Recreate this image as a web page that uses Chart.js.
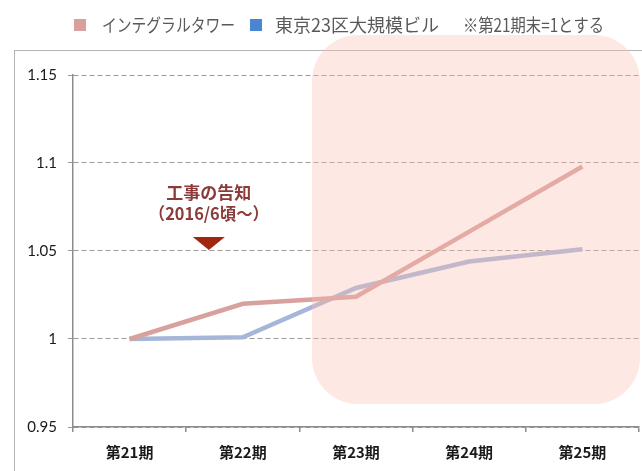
<!DOCTYPE html>
<html>
<head>
<meta charset="utf-8">
<script src="https://cdn.jsdelivr.net/npm/chart.js"></script>
<style>
  html, body { margin: 0; padding: 0; background: #fff; }
  #wrap { width: 642px; height: 471px; position: relative; }
</style>
</head>
<body>
<div id="wrap"><canvas id="grafico"></canvas></div>
<script>
// dados
const periodos = ['第21期', '第22期', '第23期', '第24期', '第25期'];
const integral = [1.000, 1.020, 1.024, 1.061, 1.098];
const tokyo23 = [1.000, 1.001, 1.029, 1.044, 1.051];
const yTicks = [0.95, 1, 1.05, 1.1, 1.15];
const yTickLabels = ['0.95', '1', '1.05', '1.1', '1.15'];
const legendas = ['インテグラルタワー', '東京23区大規模ビル'];
const nota = '※第21期末=1とする';
const anotacao = ['工事の告知', '（2016/6頃～）'];

const corRosa = '#d9a19d';
const corAzul = '#a6b6d8';
const cjk = '"Noto Sans CJK JP", sans-serif';

function roundRect(c, x, y, w, h, r) {
  c.beginPath();
  c.moveTo(x + r, y);
  c.lineTo(x + w - r, y);
  c.arcTo(x + w, y, x + w, y + r, r);
  c.lineTo(x + w, y + h - r);
  c.arcTo(x + w, y + h, x + w - r, y + h, r);
  c.lineTo(x + r, y + h);
  c.arcTo(x, y + h, x, y + h - r, r);
  c.lineTo(x, y + r);
  c.arcTo(x, y, x + r, y, r);
  c.closePath();
}

const extras = {
  id: 'extras',
  beforeDraw(chart) {
    const c = chart.ctx;
    c.save();
    c.strokeStyle = '#b4b4b4';
    c.lineWidth = 1;
    c.strokeRect(14.5, 50.5, 800, 600);
    c.restore();
  },
  afterDatasetsDraw(chart) {
    // área destacada (第23期〜)
    const c = chart.ctx;
    const x = chart.scales.x;
    const left = x.getPixelForValue(2) - 44;
    c.save();
    c.fillStyle = 'rgba(250,190,178,0.35)';
    roundRect(c, left, 35, 640 - left, 369, 46);
    c.fill();
    c.restore();
  },
  afterDraw(chart) {
    const c = chart.ctx;
    const x = chart.scales.x;
    const y = chart.scales.y;
    c.save();
    // legenda
    c.textBaseline = 'middle';
    c.fillStyle = corRosa;
    c.fillRect(74, 19, 12, 12);
    c.fillStyle = '#4a86d0';
    c.fillRect(250, 19, 12, 12);
    c.font = '18px ' + cjk;
    c.fillStyle = '#595959';
    c.fillText(legendas[0], 102, 25, 133);
    c.fillText(legendas[1], 275, 25, 165);
    c.fillText(nota, 463, 25, 141);

    // anotação
    const ax = x.getPixelForValue(0) + (x.getPixelForValue(1) - x.getPixelForValue(0)) * 0.7;
    const tip = y.getPixelForValue(1.05) - 1;
    c.fillStyle = '#8c3b3b';
    c.textAlign = 'center';
    c.font = 'bold 17px ' + cjk;
    c.fillText(anotacao[0], ax, tip - 57);
    c.fillText(anotacao[1], ax, tip - 36, 120);
    c.fillStyle = '#a0260f';
    c.beginPath();
    c.moveTo(ax - 16, tip - 13);
    c.lineTo(ax + 16, tip - 13);
    c.lineTo(ax, tip);
    c.closePath();
    c.fill();
    c.restore();
  }
};

const ctx = document.getElementById('grafico');

new Chart(ctx, {
  type: 'line',
  data: {
    labels: periodos,
    datasets: [{
      label: legendas[0],
      data: integral,
      borderColor: corRosa,
      backgroundColor: corRosa,
      borderWidth: 4.5,
      pointRadius: 0,
      tension: 0
    }, {
      label: legendas[1],
      data: tokyo23,
      borderColor: corAzul,
      backgroundColor: corAzul,
      borderWidth: 4.5,
      pointRadius: 0,
      tension: 0
    }]
  },
  options: {
    responsive: true,
    maintainAspectRatio: false,
    animation: false,
    layout: { padding: { top: 75, right: 3, left: 0, bottom: 0 } },
    plugins: {
      legend: { display: false },
      tooltip: { enabled: false }
    },
    scales: {
      x: {
        offset: true,
        afterFit(s) { s.height = 44; },
        grid: {
          offset: true,
          drawOnChartArea: false,
          drawTicks: true,
          tickLength: 5,
          color: '#8c8c8c',
          lineWidth: 1.5
        },
        border: { color: '#8c8c8c', width: 1.5 },
        ticks: {
          padding: 11,
          color: '#1a1a1a',
          font: { family: cjk, size: 15, weight: 'bold' }
        }
      },
      y: {
        min: 0.95,
        max: 1.15,
        afterFit(s) { s.width = 73; },
        afterBuildTicks(s) { s.ticks = yTicks.map(v => ({ value: v })); },
        grid: {
          color: '#9a9a9a',
          lineWidth: 1,
          tickLength: 5,
          tickBorderDash: [5, 3]
        },
        border: { color: '#8c8c8c', width: 1.5, dash: [5, 3] },
        ticks: {
          padding: 11,
          color: '#1a1a1a',
          font: { family: 'Lato, sans-serif', size: 15 },
          callback: (v, i) => yTickLabels[i]
        }
      }
    }
  },
  plugins: [extras]
});
</script>
</body>
</html>
